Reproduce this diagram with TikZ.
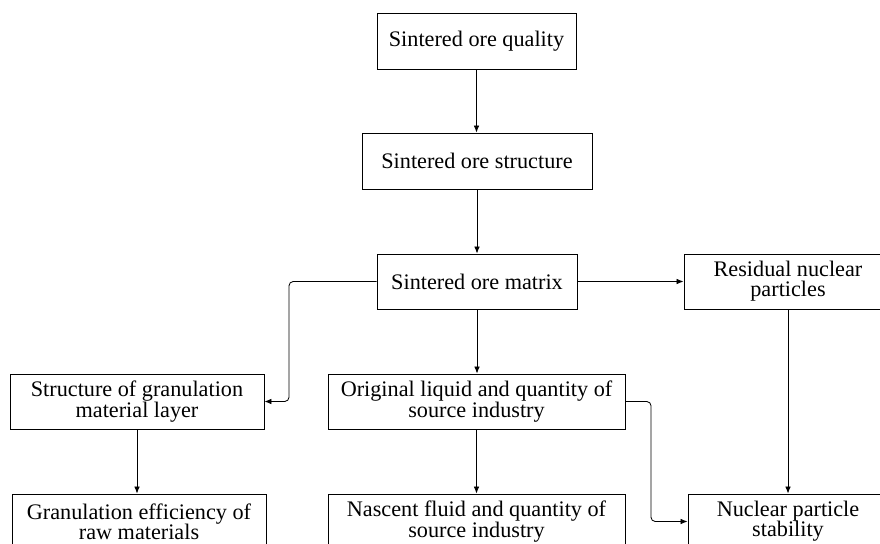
\documentclass[tikz,border=0pt]{standalone}
\usepackage{fontspec}
\setmainfont{Liberation Serif}
\usetikzlibrary{arrows.meta}
\tikzset{
  box/.style={draw, rectangle, align=center, inner sep=0pt, line width=0.6pt,
    minimum height=1.375cm, font=\fontsize{15.8}{14.4}\selectfont},
  link/.style={-{Latex[length=5pt,width=4pt]}, line width=0.6pt, rounded corners=3pt}
}
\begin{document}
\begin{tikzpicture}[x=0.025cm, y=-0.025cm]
\useasboundingbox (0,0) rectangle (880,544);
\clip (0,0) rectangle (880,544);
\node[box, minimum width=4.975cm, minimum height=1.4cm] (qual) at (476.5,41) {Sintered ore quality};
\node[box, minimum width=5.75cm, minimum height=1.4cm] (struct) at (477,161) {Sintered ore structure};
\node[box, minimum width=5cm] (matrix) at (477,281.5) {Sintered ore matrix};
\node[box, minimum width=5.2cm] (resid) at (788,281.5) {Residual nuclear\\particles};
\node[box, minimum width=6.35cm] (gran) at (137,401.5) {Structure of granulation\\material layer};
\node[box, minimum width=7.425cm] (orig) at (476.5,401.5) {Original liquid and quantity of\\source industry};
\node[box, minimum width=6.35cm] (eff) at (139,521.5) {Granulation efficiency of\\raw materials};
\node[box, minimum width=7.425cm] (nasc) at (476.5,521.5) {Nascent fluid and quantity of\\source industry};
\node[box, minimum width=5cm] (stab) at (788,521.5) {Nuclear particle\\stability};
\coordinate (bendL) at (289,401.5);
\coordinate (bendR) at (651,521.5);
\draw[link] (qual.south) -- (qual.south |- struct.north);
\draw[link] (struct.south) -- (struct.south |- matrix.north);
\draw[link] (matrix) -- (resid);
\draw[link] (matrix.south) -- (matrix.south |- orig.north);
\draw[link] (matrix.west) -| (bendL) -- (gran.east);
\draw[link] (gran.south) -- (gran.south |- eff.north);
\draw[link] (orig.south) -- (orig.south |- nasc.north);
\draw[link] (orig.east) -| (bendR) -- (stab.west);
\draw[link] (resid) -- (stab);
\end{tikzpicture}
\end{document}
